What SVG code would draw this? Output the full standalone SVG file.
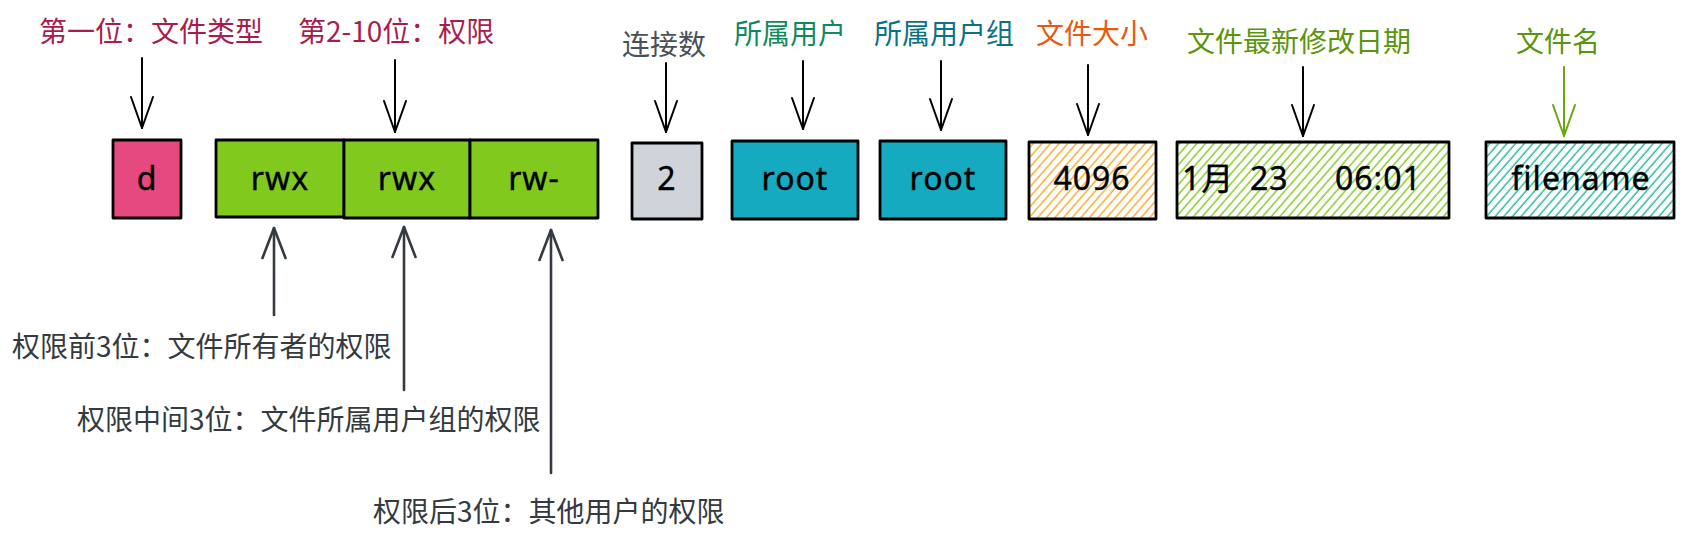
<svg xmlns="http://www.w3.org/2000/svg" width="1685" height="540" viewBox="0 0 1685 540">
<defs>
<style>
.box{stroke:#000;stroke-width:2.8;stroke-linejoin:round}
.val{font-family:"Noto Sans","Noto Sans CJK SC",sans-serif;font-size:32px;fill:#000;stroke:#000;stroke-width:0.4;text-anchor:middle;letter-spacing:1px}
.vals{font-family:"Noto Sans","Noto Sans CJK SC",sans-serif;font-size:32px;fill:#000;stroke:#000;stroke-width:0.4;letter-spacing:1px}
.lbl{font-family:"Noto Sans CJK SC","Noto Sans",sans-serif;font-size:28px}
.arr{fill:none;stroke:#000;stroke-width:2;stroke-linecap:round}
.arrg{fill:none;stroke:#66a80f;stroke-width:2;stroke-linecap:round}
.arrb{fill:none;stroke:#343a40;stroke-width:2.6;stroke-linecap:round}
</style>
<marker id="ahK" markerUnits="userSpaceOnUse" markerWidth="40" markerHeight="30" refX="0" refY="0" orient="auto" overflow="visible"><path d="M-31,-11 L0,0 L-31,11" fill="none" stroke="#000" stroke-width="2" stroke-linecap="round" stroke-linejoin="round"/></marker>
<marker id="ahG" markerUnits="userSpaceOnUse" markerWidth="40" markerHeight="30" refX="0" refY="0" orient="auto" overflow="visible"><path d="M-31,-11 L0,0 L-31,11" fill="none" stroke="#66a80f" stroke-width="2" stroke-linecap="round" stroke-linejoin="round"/></marker>
<marker id="ahB" markerUnits="userSpaceOnUse" markerWidth="40" markerHeight="30" refX="0" refY="0" orient="auto" overflow="visible"><path d="M-30,-11.5 L0,0 L-30,11.5" fill="none" stroke="#343a40" stroke-width="2.6" stroke-linecap="round" stroke-linejoin="round"/></marker>
<pattern id="hO" patternUnits="userSpaceOnUse" width="6.5" height="10" patternTransform="rotate(41)"><line x1="3" y1="-1" x2="3" y2="11" stroke="#f9a825" stroke-width="1.4"/></pattern>
<pattern id="hG" patternUnits="userSpaceOnUse" width="6.5" height="10" patternTransform="rotate(41)"><line x1="3" y1="-1" x2="3" y2="11" stroke="#82c91e" stroke-width="1.4"/></pattern>
<pattern id="hT" patternUnits="userSpaceOnUse" width="6.5" height="10" patternTransform="rotate(41)"><line x1="3" y1="-1" x2="3" y2="11" stroke="#20b997" stroke-width="1.4"/></pattern>
</defs>
<rect width="1685" height="540" fill="#fff"/>

<g id="label-type"><text class="lbl" x="39" y="42" fill="#a61e4d">第一位：文件类型</text></g>
<g id="label-perm"><text class="lbl" x="298" y="42" fill="#a61e4d">第2-10位：权限</text></g>
<g id="label-links"><text class="lbl" x="622" y="55" fill="#495057">连接数</text></g>
<g id="label-user"><text class="lbl" x="734" y="44" fill="#0f8a5f">所属用户</text></g>
<g id="label-group"><text class="lbl" x="874" y="44" fill="#0b7285">所属用户组</text></g>
<g id="label-size"><text class="lbl" x="1036" y="44" fill="#e8590c">文件大小</text></g>
<g id="label-date"><text class="lbl" x="1187" y="52" fill="#5c940d">文件最新修改日期</text></g>
<g id="label-name"><text class="lbl" x="1516" y="52" fill="#5c940d">文件名</text></g>
<g id="label-owner"><text class="lbl" x="12" y="357" fill="#343a40">权限前3位：文件所有者的权限</text></g>
<g id="label-grp"><text class="lbl" x="77" y="430" fill="#343a40">权限中间3位：文件所属用户组的权限</text></g>
<g id="label-other"><text class="lbl" x="373" y="522" fill="#343a40">权限后3位：其他用户的权限</text></g>

<g id="box-d"><rect class="box" x="113" y="140" width="68" height="78" fill="#e64980"/><text class="val" x="147" y="190">d</text></g>
<g id="box-rwx1"><rect class="box" x="216" y="140" width="128" height="77" fill="#82c91e"/><text class="val" x="280" y="190">rwx</text></g>
<g id="box-rwx2"><rect class="box" x="344" y="140" width="126" height="78" fill="#82c91e"/><text class="val" x="407" y="190">rwx</text></g>
<g id="box-rw"><rect class="box" x="470" y="140" width="128" height="78" fill="#82c91e"/><text class="val" x="534" y="190">rw-</text></g>
<g id="box-links"><rect class="box" x="632" y="143" width="70" height="76" fill="#ced4da"/><text class="val" x="667" y="190">2</text></g>
<g id="box-user"><rect class="box" x="732" y="141" width="126" height="78" fill="#15aabf"/><text class="val" x="795" y="190">root</text></g>
<g id="box-group"><rect class="box" x="880" y="141" width="126" height="78" fill="#15aabf"/><text class="val" x="943" y="190">root</text></g>
<g id="box-size"><rect x="1029" y="142" width="127" height="77" fill="url(#hO)"/><rect class="box" x="1029" y="142" width="127" height="77" fill="none"/><text class="val" x="1092" y="190">4096</text></g>
<g id="box-date"><rect x="1177" y="142" width="272" height="76" fill="url(#hG)"/><rect class="box" x="1177" y="142" width="272" height="76" fill="none"/><text class="vals" y="190"><tspan x="1182">1月</tspan><tspan x="1250">23</tspan><tspan x="1335">06:01</tspan></text></g>
<g id="box-name"><rect x="1486" y="142" width="188" height="76" fill="url(#hT)"/><rect class="box" x="1486" y="142" width="188" height="76" fill="none"/><text class="val" x="1581" y="190">filename</text></g>

<g id="connectors">
<path class="arr" d="M142,58 L142,128" marker-end="url(#ahK)"/>
<path class="arr" d="M395,60 L395,132" marker-end="url(#ahK)"/>
<path class="arr" d="M666,63 L666,132" marker-end="url(#ahK)"/>
<path class="arr" d="M803,61 L803,129" marker-end="url(#ahK)"/>
<path class="arr" d="M941,61 L941,130" marker-end="url(#ahK)"/>
<path class="arr" d="M1088,65 L1088,135" marker-end="url(#ahK)"/>
<path class="arr" d="M1303,67 L1303,136" marker-end="url(#ahK)"/>
<path class="arrg" d="M1564,67 L1564,136" marker-end="url(#ahG)"/>
<path class="arrb" d="M274,315 L274,228" marker-end="url(#ahB)"/>
<path class="arrb" d="M404,390 L404,227" marker-end="url(#ahB)"/>
<path class="arrb" d="M551,473 L551,230" marker-end="url(#ahB)"/>
</g>
</svg>
